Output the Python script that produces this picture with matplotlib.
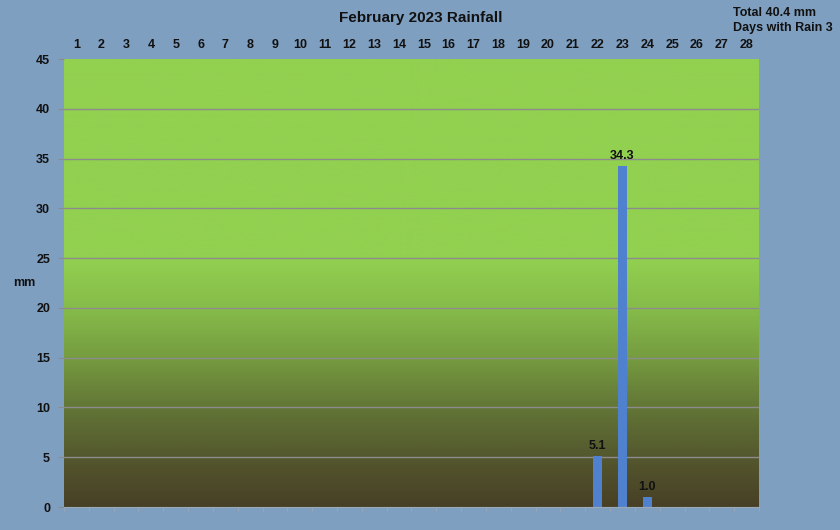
import matplotlib
matplotlib.use("Agg")
import matplotlib.pyplot as plt
import numpy as np
from matplotlib.colors import LinearSegmentedColormap

plt.rcParams['font.family'] = ['Liberation Sans', 'DejaVu Sans']

days = list(range(1, 29))
rain = [0]*21 + [5.1, 34.3, 1.0] + [0]*4
yticks = [0, 5, 10, 15, 20, 25, 30, 35, 40, 45]
title = "February 2023 Rainfall"
info = ["Total 40.4 mm", "Days with Rain 3"]

bg = "#7f9fc0"
fig = plt.figure(figsize=(8.4, 5.3), dpi=100, facecolor=bg)
ax = fig.add_axes([64/840, 23/530, 695/840, 448/530])
ax.set_facecolor(bg)

stops = [(0, (72, 64, 38)), (5/45, (84, 88, 46)), (10/45, (99, 118, 55)),
         (15/45, (118, 156, 64)), (20/45, (134, 188, 74)), (25/45, (146, 208, 80)),
         (1, (146, 208, 80))]
cmap = LinearSegmentedColormap.from_list("g", [(p, tuple(c/255 for c in col)) for p, col in stops])
grad = np.linspace(0, 1, 450).reshape(-1, 1)
ax.imshow(grad, aspect="auto", cmap=cmap, origin="lower",
          extent=[0.5, 28.5, 0, 45], zorder=0)

for y in yticks[1:-1]:
    ax.axhline(y, color="#8c8c8c", lw=1, zorder=1)

vals = np.array(rain)
ax.bar(days, vals, width=0.38, color="#4f81cf", zorder=2)
for d, v in zip(days, rain):
    if v > 0:
        ax.text(d, v + 0.4, f"{v:.1f}", ha="center", va="bottom",
                fontsize=9, fontweight="bold", color="#111111", zorder=3)

ax.set_xlim(0.5, 28.5)
ax.set_ylim(0, 45)
ax.set_yticks(yticks)
ax.set_yticklabels([str(y) for y in yticks], fontsize=9, fontweight="bold", color="#111111")
ax.set_xticks(days)
ax.set_xticklabels([str(d) for d in days], fontsize=9, fontweight="bold", color="#111111")
ax.xaxis.tick_top()
ax.tick_params(axis="x", length=0, pad=6)
ax.tick_params(axis="y", length=4, color="#8c8c8c", pad=6)
ax.set_xticks(np.arange(0.5, 29, 1), minor=True)
ax.tick_params(axis="x", which="minor", bottom=True, top=False, length=3, color="#9aa8b8")
for s in ["top", "right", "left"]:
    ax.spines[s].set_visible(False)
ax.spines["bottom"].set_color("#9aa8b8")

fig.text(24/840, 1 - 283/530, "mm", fontsize=9, fontweight="bold", color="#111111",
         ha="center", va="center")
fig.text(421/840, 1 - 18/530, title, fontsize=11, fontweight="bold", color="#111111",
         ha="center", va="center")
fig.text(733/840, 1 - 13/530, info[0], fontsize=9, fontweight="bold", color="#111111",
         ha="left", va="center")
fig.text(733/840, 1 - 28/530, info[1], fontsize=9, fontweight="bold", color="#111111",
         ha="left", va="center")

fig.savefig("out.png", dpi=100, facecolor=bg)
